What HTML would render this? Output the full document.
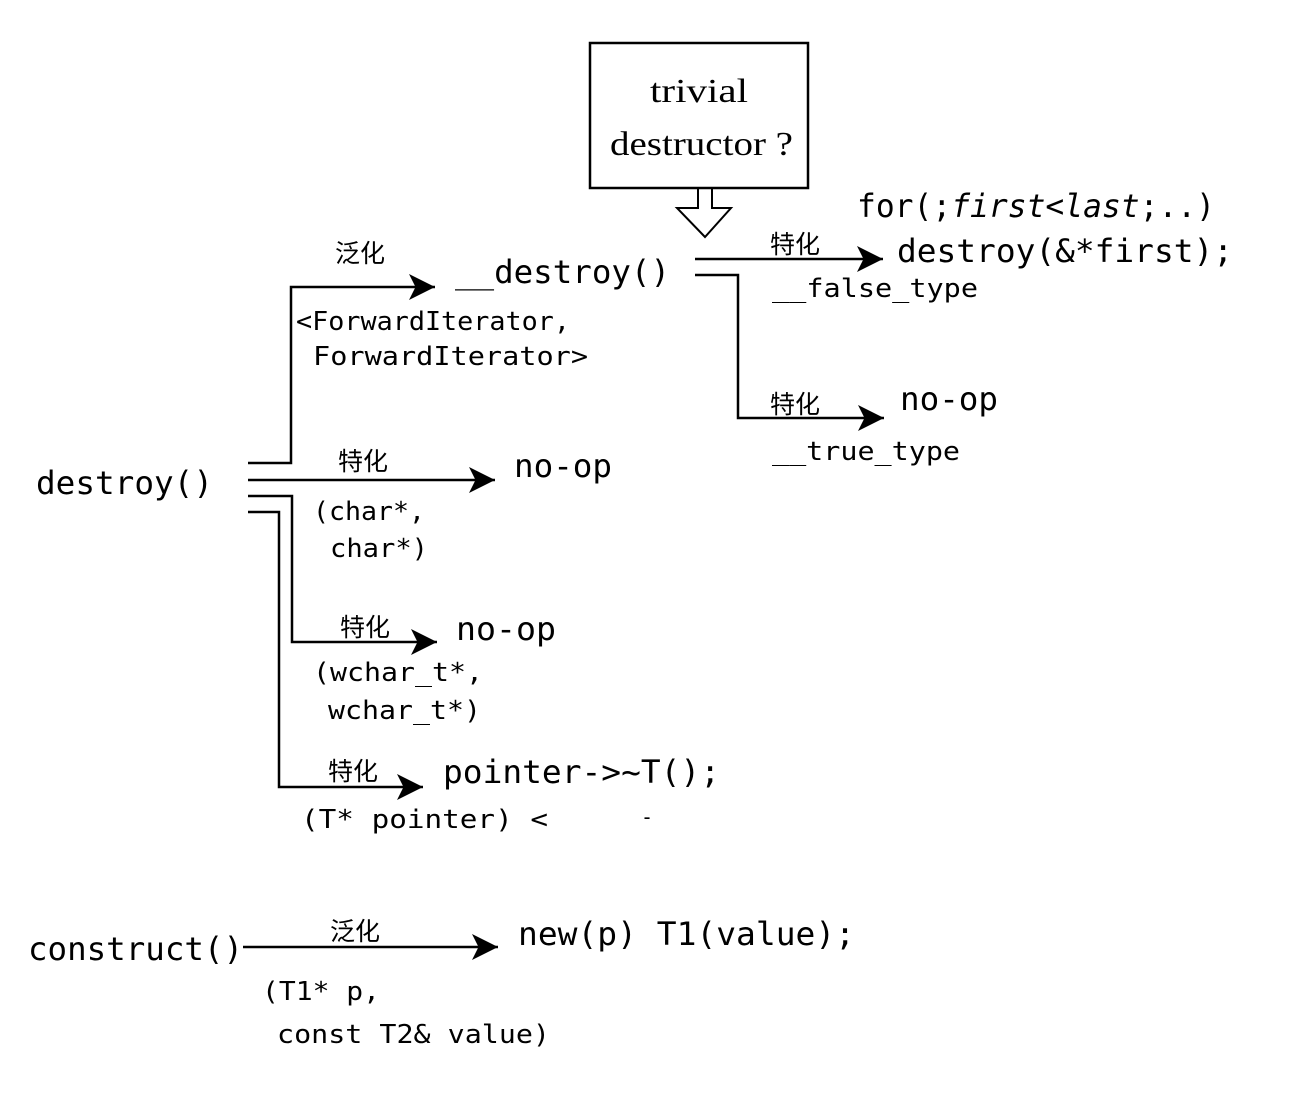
<!DOCTYPE html>
<html><head><meta charset="utf-8"><style>
html,body{margin:0;padding:0;background:#fff}
svg{display:block}
.m{font-family:"DejaVu Sans Mono","Liberation Mono",monospace;fill:#000}
.c{font-family:"Liberation Sans","Noto Sans CJK SC",sans-serif;fill:#000;font-size:25px}
.s{font-family:"Liberation Serif",serif;fill:#000;font-size:34px}
</style></head><body>
<svg width="1300" height="1094" viewBox="0 0 1300 1094" xmlns="http://www.w3.org/2000/svg">
<defs><marker id="a" viewBox="0 0 10 10" refX="10" refY="5" markerWidth="26" markerHeight="26" markerUnits="userSpaceOnUse" orient="auto"><path d="M0,0 L10,5 L0,10 L2.5,5z" fill="#000"/></marker></defs>
<g stroke="#000" stroke-width="2.5" fill="none">
<rect x="590" y="43" width="218" height="145"/>
<path d="M698,188 V208 H677 L705,237 L731,208 H712 V188" stroke-width="2"/>
<polyline points="248,463 291,463 291,287 435,287" marker-end="url(#a)"/>
<line x1="248" y1="480" x2="495" y2="480" marker-end="url(#a)"/>
<polyline points="248,496 292,496 292,642 437,642" marker-end="url(#a)"/>
<polyline points="248,512 279,512 279,787 423,787" marker-end="url(#a)"/>
<line x1="695" y1="259" x2="883" y2="259" marker-end="url(#a)"/>
<polyline points="695,275 738,275 738,418 884,418" marker-end="url(#a)"/>
<line x1="243" y1="947" x2="498" y2="947" marker-end="url(#a)"/>
</g>
<text class="s" x="699" y="102" text-anchor="middle" textLength="98" lengthAdjust="spacingAndGlyphs">trivial</text>
<text class="s" x="610" y="155" textLength="183" lengthAdjust="spacingAndGlyphs">destructor ?</text>
<text class="m" x="857" y="217" font-size="32" textLength="358" lengthAdjust="spacingAndGlyphs">for(;<tspan font-style="italic">first&lt;last</tspan>;..)</text>
<text class="m" x="897" y="262" font-size="32" textLength="336" lengthAdjust="spacingAndGlyphs">destroy(&amp;*first);</text>
<text class="m" x="772" y="297" font-size="26" textLength="206" lengthAdjust="spacingAndGlyphs">__false_type</text>
<text class="c" x="770" y="253">特化</text>
<text class="c" x="335" y="262">泛化</text>
<text class="m" x="455" y="283" font-size="32" textLength="215" lengthAdjust="spacingAndGlyphs">__destroy()</text>
<text class="m" x="296" y="330" font-size="26" textLength="274" lengthAdjust="spacingAndGlyphs">&lt;ForwardIterator,</text>
<text class="m" x="313" y="365" font-size="26" textLength="275" lengthAdjust="spacingAndGlyphs">ForwardIterator&gt;</text>
<text class="c" x="770" y="413">特化</text>
<text class="m" x="900" y="410" font-size="32" textLength="98" lengthAdjust="spacingAndGlyphs">no-op</text>
<text class="m" x="772" y="460" font-size="26" textLength="188" lengthAdjust="spacingAndGlyphs">__true_type</text>
<text class="m" x="36" y="494" font-size="32" textLength="177" lengthAdjust="spacingAndGlyphs">destroy()</text>
<text class="c" x="338" y="470">特化</text>
<text class="m" x="514" y="477" font-size="32" textLength="98" lengthAdjust="spacingAndGlyphs">no-op</text>
<text class="m" x="313" y="520" font-size="26" textLength="112" lengthAdjust="spacingAndGlyphs">(char*,</text>
<text class="m" x="330" y="557" font-size="26" textLength="98" lengthAdjust="spacingAndGlyphs">char*)</text>
<text class="c" x="340" y="636">特化</text>
<text class="m" x="456" y="640" font-size="32" textLength="100" lengthAdjust="spacingAndGlyphs">no-op</text>
<text class="m" x="313" y="681" font-size="26" textLength="170" lengthAdjust="spacingAndGlyphs">(wchar_t*,</text>
<text class="m" x="328" y="719" font-size="26" textLength="153" lengthAdjust="spacingAndGlyphs">wchar_t*)</text>
<text class="c" x="328" y="780">特化</text>
<text class="m" x="443" y="783" font-size="32" textLength="277" lengthAdjust="spacingAndGlyphs">pointer-&gt;~T();</text>
<text class="m" x="301" y="828" font-size="26" textLength="247" lengthAdjust="spacingAndGlyphs">(T* pointer) &lt;</text>
<text class="m" x="641" y="824" font-size="20">-</text>
<text class="m" x="28" y="960" font-size="32" textLength="215" lengthAdjust="spacingAndGlyphs">construct()</text>
<text class="c" x="330" y="940">泛化</text>
<text class="m" x="518" y="945" font-size="32" textLength="337" lengthAdjust="spacingAndGlyphs">new(p) T1(value);</text>
<text class="m" x="262" y="1000" font-size="26" textLength="118" lengthAdjust="spacingAndGlyphs">(T1* p,</text>
<text class="m" x="277" y="1043" font-size="26" textLength="273" lengthAdjust="spacingAndGlyphs">const T2&amp; value)</text>
</svg>
</body></html>
